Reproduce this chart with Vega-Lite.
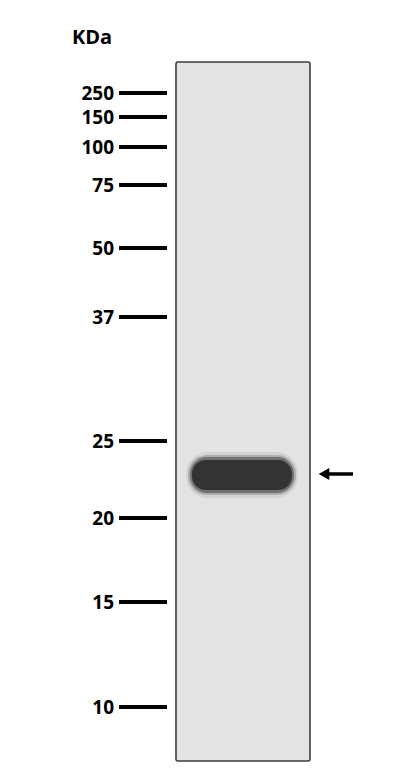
{
  "$schema": "https://vega.github.io/schema/vega-lite/v6.json",
  "width": 410,
  "height": 776,
  "autosize": "none",
  "padding": 0,
  "background": "white",
  "config": {"view": {"stroke": null}},
  "datasets": {
    "lane": [{"left": 176, "right": 310, "top": 62, "bottom": 761}],
    "band": [
      {"part": "l1", "left": 186, "right": 298, "top": 452, "bottom": 498},
      {"part": "l2", "left": 188, "right": 296, "top": 455, "bottom": 495},
      {"part": "l3", "left": 190, "right": 294, "top": 457, "bottom": 493},
      {"part": "core", "left": 192, "right": 292, "top": 460, "bottom": 490}
    ],
    "markers": [
      {"kDa": "250", "pos": 93},
      {"kDa": "150", "pos": 117},
      {"kDa": "100", "pos": 147},
      {"kDa": "75", "pos": 185},
      {"kDa": "50", "pos": 248},
      {"kDa": "37", "pos": 317},
      {"kDa": "25", "pos": 441},
      {"kDa": "20", "pos": 518},
      {"kDa": "15", "pos": 602},
      {"kDa": "10", "pos": 707}
    ],
    "arrow": [{"tip": 319, "tail": 353, "pos": 474}]
  },
  "encoding": {
    "x": {"type": "quantitative", "scale": {"domain": [0, 410]}, "axis": null},
    "y": {"type": "quantitative", "scale": {"domain": [0, 776], "reverse": true}, "axis": null}
  },
  "layer": [
    {
      "data": {"name": "lane"},
      "mark": {"type": "rect", "fill": "#e3e3e3", "stroke": "#3c3c3c", "strokeWidth": 1.6, "cornerRadius": 2},
      "encoding": {
        "x": {"field": "left", "type": "quantitative"},
        "x2": {"field": "right"},
        "y": {"field": "top", "type": "quantitative"},
        "y2": {"field": "bottom"}
      }
    },
    {
      "data": {"name": "band"},
      "transform": [{"filter": "datum.part == 'l1'"}],
      "mark": {"type": "rect", "fill": "#777777", "opacity": 0.15, "cornerRadius": 22},
      "encoding": {
        "x": {"field": "left", "type": "quantitative"},
        "x2": {"field": "right"},
        "y": {"field": "top", "type": "quantitative"},
        "y2": {"field": "bottom"}
      }
    },
    {
      "data": {"name": "band"},
      "transform": [{"filter": "datum.part == 'l2'"}],
      "mark": {"type": "rect", "fill": "#555555", "opacity": 0.3, "cornerRadius": 19},
      "encoding": {
        "x": {"field": "left", "type": "quantitative"},
        "x2": {"field": "right"},
        "y": {"field": "top", "type": "quantitative"},
        "y2": {"field": "bottom"}
      }
    },
    {
      "data": {"name": "band"},
      "transform": [{"filter": "datum.part == 'l3'"}],
      "mark": {"type": "rect", "fill": "#404040", "opacity": 0.55, "cornerRadius": 17},
      "encoding": {
        "x": {"field": "left", "type": "quantitative"},
        "x2": {"field": "right"},
        "y": {"field": "top", "type": "quantitative"},
        "y2": {"field": "bottom"}
      }
    },
    {
      "data": {"name": "band"},
      "transform": [{"filter": "datum.part == 'core'"}],
      "mark": {"type": "rect", "fill": "#333333", "cornerRadius": 14},
      "encoding": {
        "x": {"field": "left", "type": "quantitative"},
        "x2": {"field": "right"},
        "y": {"field": "top", "type": "quantitative"},
        "y2": {"field": "bottom"}
      }
    },
    {
      "data": {"name": "markers"},
      "mark": {"type": "rule", "color": "black", "strokeWidth": 4},
      "encoding": {
        "x": {"datum": 119},
        "x2": {"datum": 167},
        "y": {"field": "pos", "type": "quantitative"}
      }
    },
    {
      "data": {"name": "markers"},
      "mark": {"type": "text", "align": "right", "baseline": "middle", "font": "Open Sans", "fontWeight": "bold", "fontSize": 19, "color": "black", "dy": 1},
      "encoding": {
        "x": {"datum": 114},
        "y": {"field": "pos", "type": "quantitative"},
        "text": {"field": "kDa"}
      }
    },
    {
      "data": {"values": [{"label": "KDa"}]},
      "mark": {"type": "text", "align": "left", "baseline": "middle", "font": "Open Sans", "fontWeight": "bold", "fontSize": 20, "color": "black"},
      "encoding": {
        "x": {"datum": 72},
        "y": {"datum": 38},
        "text": {"field": "label"}
      }
    },
    {
      "data": {"name": "arrow"},
      "mark": {"type": "rule", "color": "black", "strokeWidth": 3.5},
      "encoding": {
        "x": {"field": "tip", "type": "quantitative"},
        "x2": {"field": "tail"},
        "y": {"field": "pos", "type": "quantitative"},
        "xOffset": {"value": 6}
      }
    },
    {
      "data": {"name": "arrow"},
      "mark": {"type": "point", "shape": "triangle-left", "filled": true, "color": "black", "size": 150, "opacity": 1},
      "encoding": {
        "x": {"field": "tip", "type": "quantitative"},
        "y": {"field": "pos", "type": "quantitative"},
        "xOffset": {"value": 5}
      }
    }
  ]
}
